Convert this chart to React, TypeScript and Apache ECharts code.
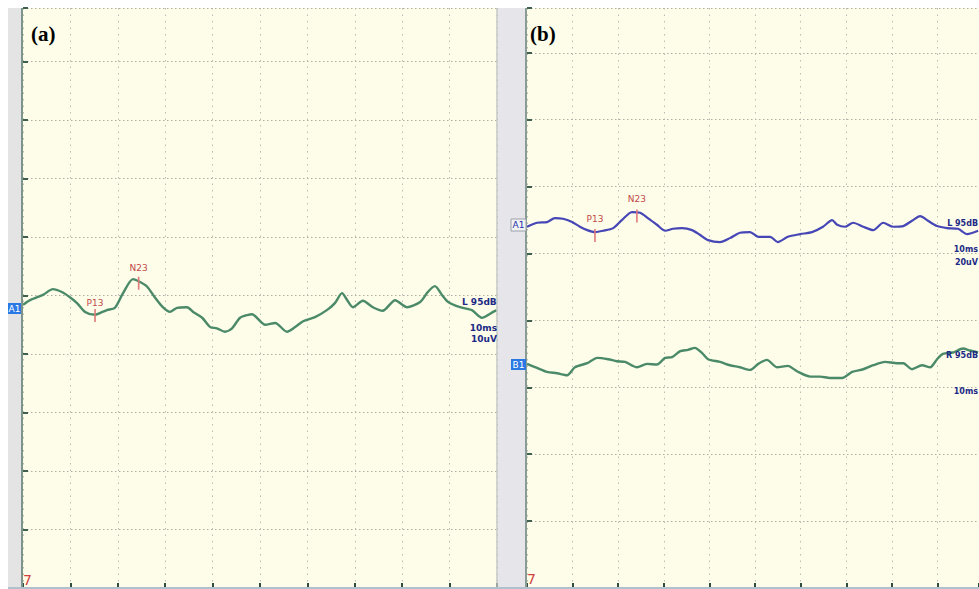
import React, { useEffect, useRef } from "react";
import * as echarts from "echarts";

// Panel (a): single trace (time in ms, amplitude in grid units, 10 units / division)
const timeA = [0, 1.5, 4.2, 6.3, 8.2, 9.9, 11.4, 13.1, 15.2, 16.2, 17.7, 19.4, 21.1, 23.2, 24.7, 26.2, 27.8, 29.5, 31.0, 32.5, 34.6, 35.9, 37.8, 39.5, 40.9, 42.6, 44.1, 45.8, 47.5, 48.3, 51.1, 53.2, 55.7, 57.4, 59.1, 61.6, 64.1, 65.8, 67.3, 68.4, 69.6, 71.7, 73.8, 75.9, 78.5, 81.0, 83.8, 85.4, 86.9, 88.4, 89.7, 92.2, 94.7, 96.8, 99.2, 100];
const ampA = [-1.6, -0.8, 0.1, 1.1, 0.6, -0.3, -1.3, -2.8, -3.3, -3.0, -2.5, -2.1, 0.4, 2.8, 2.3, 1.5, -0.3, -2.0, -2.8, -2.1, -2.0, -2.8, -3.8, -5.4, -5.6, -6.2, -5.6, -3.8, -3.3, -3.2, -5.0, -4.7, -6.2, -5.4, -4.4, -3.7, -2.5, -1.3, 0.4, -0.8, -2.0, -0.9, -2.0, -2.6, -0.8, -2.0, -1.1, 0.6, 1.6, 0.1, -1.1, -2.0, -2.5, -3.8, -2.8, -2.5];

// Panel (b): left ear trace (blue)
const timeBL = [0, 2.2, 4.4, 6.1, 7.9, 9.9, 11.6, 13.2, 14.9, 16.7, 18.9, 20.8, 23.0, 24.8, 26.5, 28.5, 30.3, 32.0, 34.0, 36.2, 37.9, 39.7, 42.3, 44.5, 46.7, 48.9, 50.7, 53.3, 55.0, 57.2, 59.9, 62.5, 64.9, 66.9, 68.0, 69.7, 71.5, 73.7, 75.9, 78.1, 80.3, 82.5, 84.4, 86.2, 87.9, 89.9, 92.1, 94.5, 96.5, 98.9];
const ampBL = [14.0, 14.6, 14.7, 15.3, 15.2, 14.7, 14.0, 13.5, 13.2, 13.4, 13.8, 15.0, 16.2, 16.1, 15.3, 14.3, 13.4, 13.7, 13.8, 13.5, 12.8, 12.0, 11.7, 12.3, 13.1, 13.2, 12.5, 12.5, 11.7, 12.5, 12.9, 13.2, 14.0, 15.0, 14.3, 14.0, 14.6, 14.0, 13.5, 14.6, 14.0, 14.1, 14.9, 15.6, 14.9, 14.1, 13.8, 13.7, 12.9, 13.4];

// Panel (b): right ear trace (green)
const timeBR = [0, 2.2, 4.4, 6.6, 8.8, 10.5, 13.2, 15.4, 17.8, 19.7, 21.5, 24.1, 26.3, 28.5, 30.3, 31.8, 33.6, 35.3, 36.8, 38.4, 39.7, 42.3, 44.5, 46.7, 48.9, 50.7, 52.6, 54.8, 57.2, 59.2, 62.1, 64.3, 66.4, 69.1, 71.3, 73.7, 75.9, 78.5, 81.1, 82.5, 84.4, 86.6, 88.4, 89.9, 91.2, 93.4, 95.6, 97.1, 98.9];
const ampBR = [-6.5, -7.1, -7.7, -7.9, -8.2, -7.0, -6.4, -5.6, -5.8, -6.1, -6.2, -7.0, -6.5, -6.6, -5.6, -5.5, -4.6, -4.4, -4.1, -4.9, -5.8, -6.2, -6.7, -7.0, -7.4, -6.5, -5.9, -7.0, -6.8, -7.6, -8.4, -8.4, -8.6, -8.6, -7.7, -7.3, -6.7, -6.2, -6.4, -6.4, -7.3, -6.7, -7.0, -5.8, -5.0, -4.8, -4.2, -4.5, -4.8];

// Peak markers
const markerNames = ["P13", "N23"];
const markerTimeA = [15.2, 24.4];
const markerAmpA = [-3.4, 2.1];
const markerDistA = [1, 4];
const markerTimeB = [14.9, 24.1];
const markerAmpB = [12.7, 15.6];
const markerDistB = [5, 6];

const GREEN = "#4b8a68";
const BLUE = "#4646b6";
const LABEL_NAVY = "#1c2a86";
const RED_TEXT = "#c24a4a";
const RED_TICK = "#e07878";

const zip = (xs: number[], ys: number[]) => xs.map((x, i) => [x, ys[i]]);

const markers = (times: number[], amps: number[], dists: number[]) => ({
  silent: true,
  animation: false,
  data: markerNames.map((n, i) => ({
    coord: [times[i], amps[i]],
    symbol: "rect",
    symbolSize: [1.6, 13],
    itemStyle: { color: RED_TICK },
    label: {
      show: true,
      formatter: n,
      position: "top",
      distance: dists[i],
      color: RED_TEXT,
      fontSize: 9,
      fontFamily: "DejaVu Sans",
    },
  })),
});

const vSplit = {
  show: true,
  lineStyle: { color: "#bcbcb0", width: 1, type: [1.5, 5] as any },
};
const hSplit = {
  show: true,
  lineStyle: { color: "#adada3", width: 1, type: [1.5, 2.5] as any },
};

const xAxisBase = (gridIndex: number, max: number) => ({
  type: "value" as const,
  gridIndex,
  position: "bottom" as const,
  min: 0,
  max,
  interval: 10,
  axisLine: { show: false, onZero: false },
  axisLabel: { show: false },
  axisTick: { show: true, inside: true, length: 5, lineStyle: { color: "#2f4d3e", width: 2 } },
  splitLine: vSplit,
});
const yAxisBase = (gridIndex: number, min: number, max: number) => ({
  type: "value" as const,
  gridIndex,
  position: "left" as const,
  min,
  max,
  interval: 10,
  axisLine: { show: false, onZero: false },
  axisLabel: { show: false },
  axisTick: { show: true, inside: true, length: 5, lineStyle: { color: "#40604f", width: 2 } },
  splitLine: hSplit,
});

export default function App() {
  const ref = useRef<HTMLDivElement>(null);
  useEffect(() => {
    if (!ref.current) return;
    const chart = echarts.init(ref.current, undefined, { renderer: "svg" });
    const txt = (text: string, x: number, y: number, opts: any = {}) => ({
      type: "text",
      x,
      y,
      z: 100,
      silent: true,
      style: {
        text,
        fill: opts.fill ?? LABEL_NAVY,
        font: opts.font ?? "bold 9px 'DejaVu Sans'",
        textAlign: opts.align ?? "left",
        textVerticalAlign: "middle",
      },
    });
    const smallBold = "bold 8px 'DejaVu Sans'";
    chart.setOption({
      animation: false,
      backgroundColor: "#ffffff",
      grid: [
        { left: 23, top: 8, width: 474, height: 580, show: true, backgroundColor: "#fdfde9", borderWidth: 0 },
        { left: 527, top: 8, width: 452, height: 580, show: true, backgroundColor: "#fdfde9", borderWidth: 0 },
      ],
      xAxis: [xAxisBase(0, 100), xAxisBase(1, 99.1)],
      yAxis: [yAxisBase(0, -50, 49.15), yAxisBase(1, -40, 46.7)],
      series: [
        {
          type: "line",
          xAxisIndex: 0,
          yAxisIndex: 0,
          data: zip(timeA, ampA),
          showSymbol: false,
          smooth: 0.25,
          lineStyle: { color: GREEN, width: 2.4 },
          markPoint: markers(markerTimeA, markerAmpA, markerDistA),
        },
        {
          type: "line",
          xAxisIndex: 1,
          yAxisIndex: 1,
          data: zip(timeBL, ampBL),
          showSymbol: false,
          smooth: 0.25,
          lineStyle: { color: BLUE, width: 2.2 },
          markPoint: markers(markerTimeB, markerAmpB, markerDistB),
        },
        {
          type: "line",
          xAxisIndex: 1,
          yAxisIndex: 1,
          data: zip(timeBR, ampBR),
          showSymbol: false,
          smooth: 0.25,
          lineStyle: { color: GREEN, width: 2.4 },
        },
      ],
      graphic: [
        // panel (a) left strip
        { type: "rect", z: 90, silent: true, shape: { x: 8, y: 8, width: 13, height: 580 }, style: { fill: "#e4e4e4" } },
        { type: "line", z: 91, silent: true, shape: { x1: 22, y1: 8, x2: 22, y2: 588 }, style: { stroke: "#7d948a", lineWidth: 2 } },
        // separator and panel (b) left strip
        { type: "line", z: 91, silent: true, shape: { x1: 497, y1: 8, x2: 497, y2: 588 }, style: { stroke: "#c2c6c2", lineWidth: 1.5 } },
        { type: "rect", z: 90, silent: true, shape: { x: 498, y: 8, width: 27, height: 580 }, style: { fill: "#e6e6ea" } },
        { type: "line", z: 91, silent: true, shape: { x1: 526, y1: 8, x2: 526, y2: 588 }, style: { stroke: "#8a9a94", lineWidth: 2 } },
        // bottom bar
        { type: "rect", z: 92, silent: true, shape: { x: 8, y: 587, width: 971, height: 2 }, style: { fill: "#b0c0cc" } },
        // channel labels
        { type: "rect", z: 95, silent: true, shape: { x: 8, y: 303, width: 13, height: 11 }, style: { fill: "#2a78e4" } },
        txt("A1", 14.5, 308.5, { fill: "#ffffff", font: "9px 'DejaVu Sans'", align: "center" }),
        { type: "rect", z: 95, silent: true, shape: { x: 511, y: 219, width: 15, height: 12 }, style: { fill: "#f2f2f2", stroke: "#9aa0a8", lineWidth: 1 } },
        txt("A1", 518.5, 225, { fill: "#2233aa", font: "9px 'DejaVu Sans'", align: "center" }),
        { type: "rect", z: 95, silent: true, shape: { x: 511, y: 359, width: 15, height: 11 }, style: { fill: "#2a78e4" } },
        txt("B1", 518.5, 364.5, { fill: "#ffffff", font: "9px 'DejaVu Sans'", align: "center" }),
        // right-side labels, panel (a)
        txt("L 95dB", 462, 302),
        txt("10ms", 497, 328, { align: "right" }),
        txt("10uV", 497, 339, { align: "right" }),
        // right-side labels, panel (b) (kept inside the picture)
        txt("L 95dB", 978, 223, { align: "right", font: smallBold }),
        txt("10ms", 978, 249, { align: "right", font: smallBold }),
        txt("20uV", 978, 262, { align: "right", font: smallBold }),
        txt("R 95dB", 978, 355, { align: "right", font: smallBold }),
        txt("10ms", 978, 391, { align: "right", font: smallBold }),
        // trigger markers
        txt("7", 23, 580, { fill: "#d04040", font: "14px 'DejaVu Sans'" }),
        txt("7", 527, 579, { fill: "#d04040", font: "14px 'DejaVu Sans'" }),
        // panel letters
        txt("(a)", 31, 34, { fill: "#000000", font: "bold 21px 'Liberation Serif'" }),
        txt("(b)", 530, 34, { fill: "#000000", font: "bold 21px 'Liberation Serif'" }),
      ],
    });
    return () => chart.dispose();
  }, []);
  return (
    <div
      ref={ref}
      style={{ position: "absolute", left: 0, top: 0, width: 979, height: 589 }}
    />
  );
}
